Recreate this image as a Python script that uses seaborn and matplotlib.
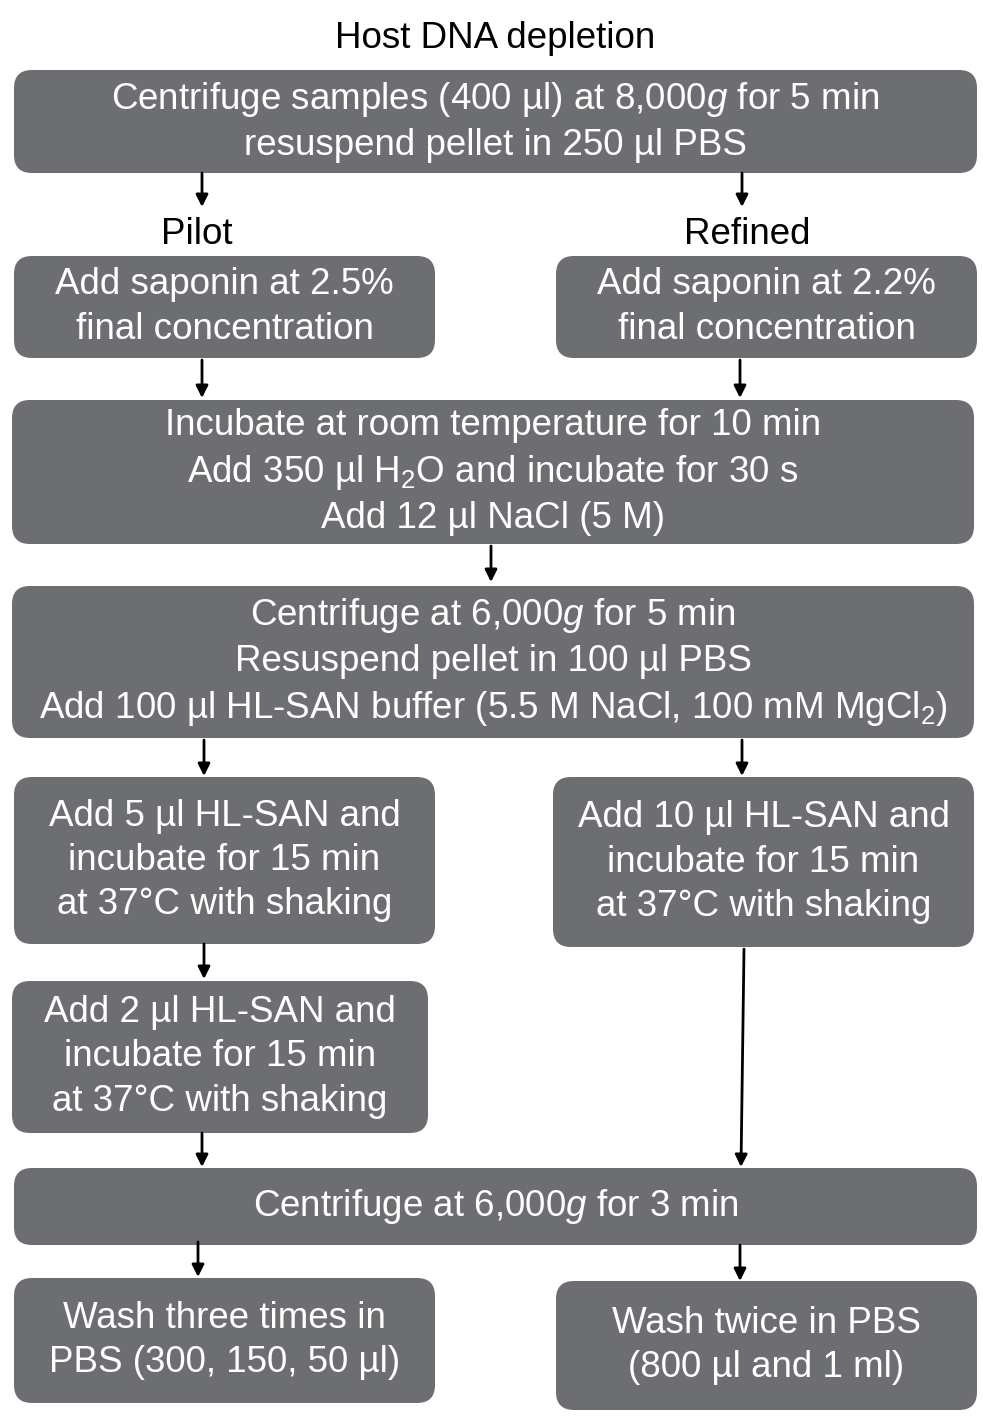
import matplotlib
matplotlib.use("Agg")
import matplotlib.pyplot as plt
import seaborn as sns
from matplotlib.patches import FancyBboxPatch

sns.set_theme(style="white")
plt.rcParams["font.family"] = ["Liberation Sans", "DejaVu Sans"]
plt.rcParams["mathtext.fontset"] = "custom"
plt.rcParams["mathtext.rm"] = "Liberation Sans"
plt.rcParams["mathtext.it"] = "Liberation Sans:italic"

BOX = "#6d6e71"
FS = 26.5

title = "Host DNA depletion"
branch_labels = ["Pilot", "Refined"]
branch_label_pos = [(197, 234), (747, 234)]

# box texts and box extents (x0, y0, x1, y1) in pixel space
box_texts = [
    "Centrifuge samples (400 µl) at 8,000$\\it{g}$ for 5 min\nresuspend pellet in 250 µl PBS",
    "Add saponin at 2.5%\nfinal concentration",
    "Add saponin at 2.2%\nfinal concentration",
    "Incubate at room temperature for 10 min\nAdd 350 µl H$_2$O and incubate for 30 s\nAdd 12 µl NaCl (5 M)",
    "Centrifuge at 6,000$\\it{g}$ for 5 min\nResuspend pellet in 100 µl PBS\nAdd 100 µl HL-SAN buffer (5.5 M NaCl, 100 mM MgCl$_2$)",
    "Add 5 µl HL-SAN and\nincubate for 15 min\nat 37°C with shaking",
    "Add 10 µl HL-SAN and\nincubate for 15 min\nat 37°C with shaking",
    "Add 2 µl HL-SAN and\nincubate for 15 min\nat 37°C with shaking",
    "Centrifuge at 6,000$\\it{g}$ for 3 min",
    "Wash three times in\nPBS (300, 150, 50 µl)",
    "Wash twice in PBS\n(800 µl and 1 ml)",
]
boxes = [
    (14, 70, 977, 173),
    (14, 256, 435, 358),
    (556, 256, 977, 358),
    (12, 400, 974, 544),
    (12, 586, 974, 738),
    (14, 777, 435, 944),
    (553, 777, 974, 947),
    (12, 981, 428, 1133),
    (14, 1168, 977, 1245),
    (14, 1278, 435, 1403),
    (556, 1281, 977, 1410),
]
# arrows: (x_start, y_start, x_end, y_end)
arrows = [
    (202, 173, 202, 207), (742, 173, 742, 207),
    (202, 360, 202, 398), (740, 360, 740, 398),
    (491, 546, 491, 582),
    (204, 740, 204, 776), (742, 740, 742, 776),
    (204, 944, 204, 979),
    (202, 1133, 202, 1167), (744, 949, 741, 1167),
    (198, 1242, 198, 1277), (740, 1245, 740, 1281),
]

fig = plt.figure(figsize=(9.83, 14.18), dpi=100)
ax = fig.add_axes([0, 0, 1, 1])
ax.set_xlim(0, 983)
ax.set_ylim(1418, 0)
ax.axis("off")

ax.text(495, 38, title, ha="center", va="center", fontsize=FS, color="black")
for lab, (x, y) in zip(branch_labels, branch_label_pos):
    ax.text(x, y, lab, ha="center", va="center", fontsize=FS, color="black")

r = 18
for (x0, y0, x1, y1), txt in zip(boxes, box_texts):
    p = FancyBboxPatch((x0 + r, y0 + r), x1 - x0 - 2 * r, y1 - y0 - 2 * r,
                       boxstyle=f"round,pad={r}", fc=BOX, ec="none")
    ax.add_patch(p)
    ax.text((x0 + x1) / 2, (y0 + y1) / 2, txt, ha="center", va="center",
            fontsize=FS, color="white", linespacing=1.35)

for xs, ys, xe, ye in arrows:
    ax.annotate("", xy=(xe, ye), xytext=(xs, ys),
                arrowprops=dict(arrowstyle="-|>,head_length=0.6,head_width=0.3",
                                color="black", lw=2, shrinkA=0, shrinkB=0))

fig.savefig("out.png", dpi=100)
